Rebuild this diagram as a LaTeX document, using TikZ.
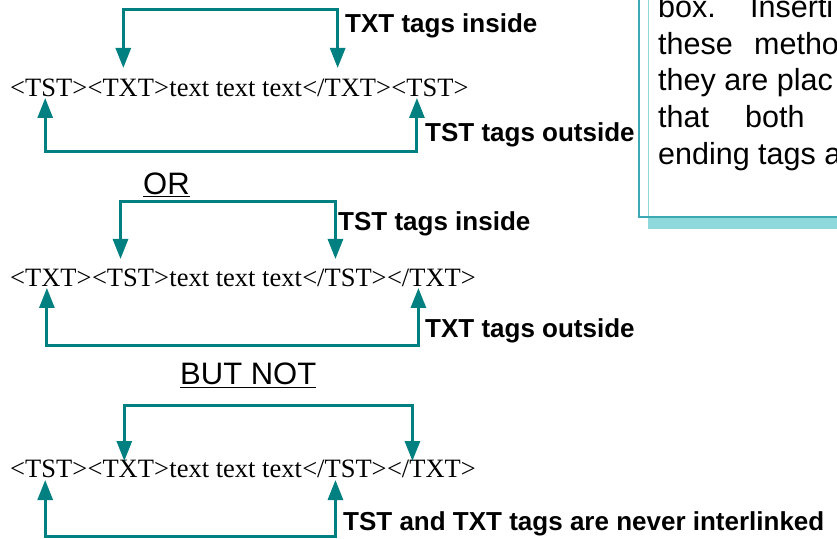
\documentclass[tikz,border=0pt]{standalone}
\usepackage{fontspec}
\setmainfont{Liberation Serif}
\setsansfont{Liberation Sans}
\usetikzlibrary{positioning,arrows.meta}
\definecolor{arrowteal}{RGB}{0,128,128}
\definecolor{boxteal}{RGB}{60,170,180}
\definecolor{shadowteal}{RGB}{143,217,220}

\begin{document}
\begin{tikzpicture}[x=1pt,y=1pt,
  link/.style={{Triangle[width=15pt,length=20pt]}-{Triangle[width=15pt,length=20pt]},
    line width=3pt,draw=arrowteal},
  lbl/.style={font=\sffamily\bfseries\fontsize{26}{30}\selectfont,anchor=base west,inner sep=0pt},
  word/.style={font=\sffamily\fontsize{31}{36}\selectfont,anchor=base west,inner sep=0pt},
  note/.style={font=\sffamily\fontsize{30.5}{36}\selectfont,anchor=base west,inner sep=0pt}]
\useasboundingbox (0,0) rectangle (837,538);

% note box (top right)
\fill[shadowteal] (648,309) rectangle (837,321);
\draw[shadowteal,line width=1pt] (648,321) -- (648,538);
\draw[boxteal,line width=1.2pt] (639,538) |- (837,321);
\node[note] (N1) at (658,520) {\makebox[92pt][l]{box.}Inserti};
\node[note] (N2) at (658,483) {\makebox[96pt][l]{these}metho};
\node[note] (N3) at (658,447) {they are plac};
\node[note] (N4) at (658,410) {\makebox[87pt][l]{that}both};
\node[note] (N5) at (658,373) {ending tags a};

% the three tag lines
\begin{scope}[every node/.style={font=\fontsize{26.5}{30}\selectfont,inner sep=0pt}]
    \node[anchor=base west] (A1) at (10,441) {<TST>};
    \node[base right=0pt of A1] (A2) {<TXT>};
    \node[base right=0pt of A2] (A3) {text text text};
    \node[base right=0pt of A3] (A4) {</TXT>};
    \node[base right=0pt of A4] (A5) {<TST>};

    \node[anchor=base west] (B1) at (10,251) {<TXT>};
    \node[base right=0pt of B1] (B2) {<TST>};
    \node[base right=0pt of B2] (B3) {text text text};
    \node[base right=0pt of B3] (B4) {</TST>};
    \node[base right=0pt of B4] (B5) {</TXT>};

    \node[anchor=base west] (C1) at (10,61) {<TST>};
    \node[base right=0pt of C1] (C2) {<TXT>};
    \node[base right=0pt of C2] (C3) {text text text};
    \node[base right=0pt of C3] (C4) {</TST>};
    \node[base right=0pt of C4] (C5) {</TXT>};
\end{scope}

% brackets
\draw[link] ([xshift=-5pt,yshift=29pt]A2.base) -- ++(0,58) -| ([xshift=-9pt,yshift=29pt]A4.base);
\draw[link] ([xshift=-3.5pt,yshift=-1pt]A1.base) -- ++(0,-54) -| ([xshift=-13pt,yshift=-1pt]A5.base);
\draw[link] ([xshift=-10pt,yshift=28pt]B2.base) -- ++(0,57) -| ([xshift=-9pt,yshift=28pt]B4.base);
\draw[link] ([xshift=-4pt,yshift=-1pt]B1.base) -- ++(0,-58) -| ([xshift=-13pt,yshift=-1pt]B5.base);
\draw[link] ([xshift=-4pt,yshift=16pt]C2.base) -- ++(0,55) -| ([xshift=-19pt,yshift=16pt]C5.base);
\draw[link] ([xshift=-3.5pt,yshift=-3pt]C1.base) -- ++(0,-56) -| ([xshift=-9pt,yshift=-3pt]C4.base);

% labels
\node[lbl] (L1) at (345,505) {TXT tags inside};
\node[lbl] (L2) at (425,396) {TST tags outside};
\node[word] (OR) at (143,343) {\underline{OR}};
\node[lbl] (L3) at (338,307) {TST tags inside};
\node[lbl] (L4) at (425,200) {TXT tags outside};
\node[word] (BN) at (180,153) {\underline{BUT NOT}};
\node[lbl] (L5) at (343,8) {TST and TXT tags are never interlinked};
\end{tikzpicture}
\end{document}
